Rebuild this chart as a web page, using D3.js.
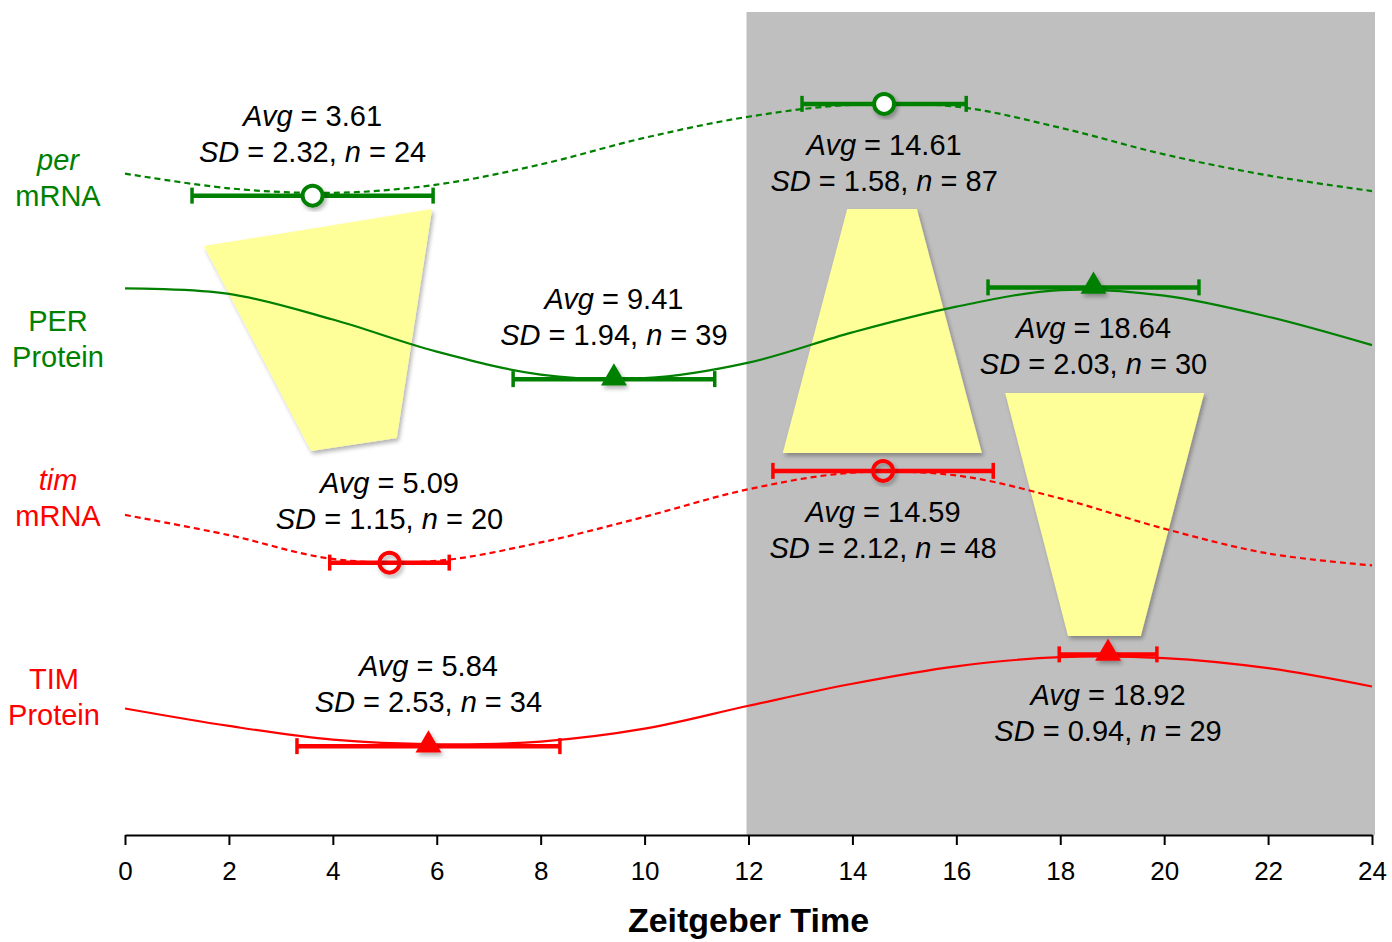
<!DOCTYPE html>
<html>
<head>
<meta charset="utf-8">
<script src="https://cdn.jsdelivr.net/npm/d3@7"></script>
<style>
  body { margin: 0; background: #fff; }
  svg text { font-family: "Liberation Sans", Arial, Helvetica, sans-serif; }
</style>
</head>
<body>
<div id="chart"></div>
<script>
const width = 1392
const height = 942

// data
const rowNames = ["per", "PER", "tim", "TIM"]
const rowKinds = ["mRNA", "Protein", "mRNA", "Protein"]
const rowItalic = [true, false, true, false]
const hours = [0, 2, 4, 6, 8, 10, 12, 14, 16, 18, 20, 22, 24]
// relative level (0 = trough, 100 = peak)
const perMrna    = [24, 8, 3, 12, 34, 63, 86, 99, 97, 74, 45, 22, 5]
const perProtein = [99, 93, 65, 30, 5, 1, 18, 51, 79, 97, 91, 68, 37]
const timMrna    = [52, 30, 4, 2, 22, 50, 80, 98, 95, 70, 37, 10, -3]
const timProtein = [41, 22, 7, 2, 5, 19, 44, 68, 87, 97, 96, 85, 65]
const curves = [perMrna, perProtein, timMrna, timProtein]

const statRow   = [0, 0, 1, 1, 2, 2, 3, 3]
const statLevel = [0, 100, 0, 100, 0, 100, 0, 100]
const statAvg   = [3.61, 14.61, 9.41, 18.64, 5.09, 14.59, 5.84, 18.92]
const statSD    = [2.32, 1.58, 1.94, 2.03, 1.15, 2.12, 2.53, 0.94]
const statN     = [24, 87, 39, 30, 20, 48, 34, 29]
const hourTicks = [0, 2, 4, 6, 8, 10, 12, 14, 16, 18, 20, 22, 24]

// yellow funnels, in [hour, row units]
const funnels = [
  [[1.52, 1.025], [5.91, 0.823], [5.23, 2.071], [3.58, 2.142]],
  [[13.90, 0.823], [15.24, 0.823], [16.49, 2.153], [12.66, 2.153]],
  [[16.94, 1.826], [20.77, 1.826], [19.55, 3.150], [18.15, 3.150]]
]

const colors = ["#008000", "#008000", "#ff0000", "#ff0000"]
const dashed = [true, false, true, false]
const labelPos = [[58, 0.654], [58, 1.531], [58, 2.398], [54, 3.482]]

const svg = d3.select("div#chart").append("svg").attr("width", width).attr("height", height)

const defs = svg.append("defs")
const shadow = defs.append("filter").attr("id", "shadow").attr("x", "-30%").attr("y", "-30%").attr("width", "160%").attr("height", "160%")
shadow.append("feDropShadow").attr("dx", 2).attr("dy", 3).attr("stdDeviation", 2).attr("flood-color", "#000").attr("flood-opacity", 0.3)

const x = d3.scaleLinear().domain([0, 24]).range([125, 1372])
const y = d3.scaleLinear().domain([0, 4]).range([58, 792])
const lvl = (row, L) => row + 0.75 - 0.5 * L / 100
const axisY = 835

// night shading
svg.append("rect")
  .attr("x", x(12) - 2).attr("y", 12)
  .attr("width", 1375 - x(12) + 2).attr("height", axisY - 12)
  .attr("fill", "#bfbfbf")

// funnels
svg.selectAll(".funnel").data(funnels).enter()
  .append("polygon")
  .attr("class", "funnel")
  .attr("points", d => d.map(p => [x(p[0]), y(p[1])].join(",")).join(" "))
  .attr("fill", "#ffff99")
  .attr("filter", "url(#shadow)")

// curves
const line = row => d3.line()
  .x((d, i) => x(hours[i]))
  .y(d => y(lvl(row, d)))
  .curve(d3.curveCatmullRom.alpha(0.5))

svg.selectAll(".curve").data(curves).enter()
  .append("path")
  .attr("class", "curve")
  .attr("d", (d, i) => line(i)(d))
  .attr("fill", "none")
  .attr("stroke", (d, i) => colors[i])
  .attr("stroke-width", 2.2)
  .attr("stroke-dasharray", (d, i) => dashed[i] ? "6,4" : null)

// error bars + markers
const stats = statAvg.map((a, i) => ({ row: statRow[i], level: statLevel[i], avg: a, sd: statSD[i], n: statN[i] }))

const bars = svg.selectAll(".ebar").data(stats).enter().append("g").attr("class", "ebar")
  .attr("stroke", d => colors[d.row]).attr("stroke-width", 4.5)
bars.append("line")
  .attr("x1", d => x(d.avg - d.sd)).attr("x2", d => x(d.avg + d.sd))
  .attr("y1", d => y(lvl(d.row, d.level))).attr("y2", d => y(lvl(d.row, d.level)))
bars.append("line")
  .attr("x1", d => x(d.avg - d.sd)).attr("x2", d => x(d.avg - d.sd))
  .attr("y1", d => y(lvl(d.row, d.level)) - 8).attr("y2", d => y(lvl(d.row, d.level)) + 8)
  .attr("stroke-width", 3.5)
bars.append("line")
  .attr("x1", d => x(d.avg + d.sd)).attr("x2", d => x(d.avg + d.sd))
  .attr("y1", d => y(lvl(d.row, d.level)) - 8).attr("y2", d => y(lvl(d.row, d.level)) + 8)
  .attr("stroke-width", 3.5)

bars.filter(d => rowKinds[d.row] === "mRNA")
  .append("circle")
  .attr("cx", d => x(d.avg)).attr("cy", d => y(lvl(d.row, d.level)))
  .attr("r", 10)
  .attr("fill", d => d.row === 0 ? "#fff" : "none")
  .attr("stroke-width", 4)
  .attr("filter", "url(#shadow)")

bars.filter(d => rowKinds[d.row] === "Protein")
  .append("path")
  .attr("d", d3.symbol().type(d3.symbolTriangle).size(290))
  .attr("transform", d => `translate(${x(d.avg)}, ${y(lvl(d.row, d.level)) - 1})`)
  .attr("fill", d => colors[d.row])
  .attr("stroke", "none")
  .attr("filter", "url(#shadow)")

// stat labels
const labels = svg.selectAll(".stat").data(stats).enter().append("g").attr("class", "stat")
  .attr("font-size", 29).attr("fill", "#000").attr("text-anchor", "middle")

const t1 = labels.append("text")
  .attr("x", d => x(d.avg))
  .attr("y", d => y(lvl(d.row, d.level)) + (d.level === 0 ? -80 : 41) + 10)
t1.append("tspan").attr("font-style", "italic").text("Avg")
t1.append("tspan").text(d => " = " + d.avg.toFixed(2))

const t2 = labels.append("text")
  .attr("x", d => x(d.avg))
  .attr("y", d => y(lvl(d.row, d.level)) + (d.level === 0 ? -44 : 77) + 10)
t2.append("tspan").attr("font-style", "italic").text("SD")
t2.append("tspan").text(d => " = " + d.sd.toFixed(2) + ", ")
t2.append("tspan").attr("font-style", "italic").text("n")
t2.append("tspan").text(d => " = " + d.n)

// row labels
const rl = svg.selectAll(".rowlabel").data(rowNames).enter().append("text")
  .attr("class", "rowlabel")
  .attr("text-anchor", "middle")
  .attr("font-size", 29)
  .attr("fill", (d, i) => colors[i])
  .attr("x", (d, i) => labelPos[i][0])
  .attr("y", (d, i) => y(labelPos[i][1]) - 18 + 10)
rl.append("tspan").attr("font-style", (d, i) => rowItalic[i] ? "italic" : "normal").text(d => d)
rl.append("tspan").attr("x", (d, i) => labelPos[i][0]).attr("dy", 36).text((d, i) => rowKinds[i])

// axis
const xAxis = d3.axisBottom(x).tickValues(hourTicks).tickSize(10).tickSizeOuter(0).tickPadding(17)
const axisGroup = svg.append("g").attr("transform", `translate(0, ${axisY})`).call(xAxis)
axisGroup.select(".domain").attr("stroke", "#000").attr("stroke-width", 2)
axisGroup.selectAll(".tick line").attr("stroke", "#000").attr("stroke-width", 2)
axisGroup.selectAll(".tick text").attr("font-size", 26).attr("fill", "#000")
  .attr("font-family", "'Liberation Sans', Arial, sans-serif")

svg.append("text")
  .attr("x", x(12)).attr("y", 932)
  .attr("text-anchor", "middle")
  .attr("font-size", 34).attr("font-weight", "bold")
  .text("Zeitgeber Time")
</script>
</body>
</html>
